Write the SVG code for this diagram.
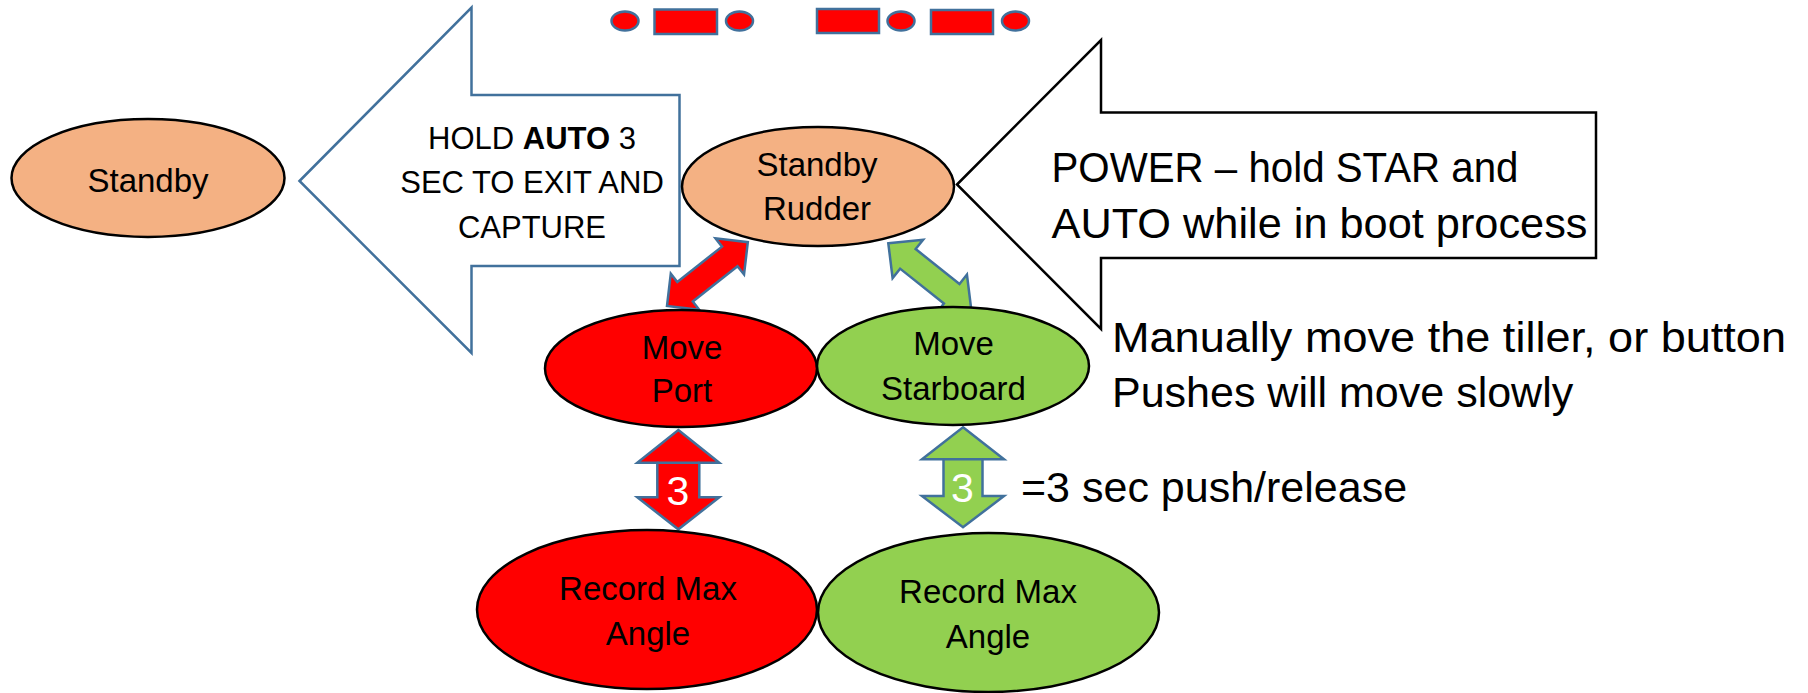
<svg xmlns="http://www.w3.org/2000/svg" width="1808" height="693" viewBox="0 0 1808 693">
<style>
.t{font-family:"Liberation Sans",Arial,sans-serif;fill:#000}
.n{font-size:33px;text-anchor:middle}
.h{font-size:31px;text-anchor:middle}
.big{font-size:43px}
.d{fill:#FF0000;stroke:#41719C;stroke-width:2.5}
.ba{stroke:#41719C;stroke-width:2.5;stroke-linejoin:miter}
.el{stroke:#000;stroke-width:2.5}
.or{fill:#F4B183}
.rd{fill:#FF0000}
.gr{fill:#92D050}
.w{font-family:"Liberation Sans",Arial,sans-serif;font-size:41px;fill:#fff;text-anchor:middle}
</style>
<rect width="1808" height="693" fill="#fff"/>

<g id="top-signal">
<ellipse class="d" cx="625" cy="21" rx="13.5" ry="9.5"/>
<rect class="d" x="654.5" y="9.5" width="62.5" height="24.5"/>
<ellipse class="d" cx="739.5" cy="21" rx="13.5" ry="9.5"/>
<rect class="d" x="817" y="9" width="62" height="24"/>
<ellipse class="d" cx="901" cy="21" rx="13.5" ry="9.5"/>
<rect class="d" x="931" y="10" width="62" height="24"/>
<ellipse class="d" cx="1015.5" cy="21" rx="13.5" ry="9.5"/>
</g>

<g id="exit-arrow">
<polygon points="299.5,181 471.5,7.5 471.5,95 679.5,95 679.5,266 471.5,266 471.5,353" fill="#fff" stroke="#41719C" stroke-width="2.5"/>
<text class="t h" x="532" y="149">HOLD <tspan font-weight="bold">AUTO</tspan> 3</text>
<text class="t h" x="532" y="193">SEC TO EXIT AND</text>
<text class="t h" x="532" y="238">CAPTURE</text>
</g>

<g id="power-arrow">
<polygon points="957,184.5 1101,40 1101,112.5 1596,112.5 1596,258 1101,258 1101,329" fill="#fff" stroke="#000" stroke-width="2.5"/>
<text class="t big" x="1051.5" y="181.5" textLength="467" lengthAdjust="spacingAndGlyphs">POWER – hold STAR and</text>
<text class="t big" x="1051.5" y="238" textLength="536" lengthAdjust="spacingAndGlyphs">AUTO while in boot process</text>
</g>

<g id="connectors">
<polygon class="ba rd" transform="translate(667,306) rotate(-38.3)" points="0,0 23,-23 23,-12.5 80,-12.5 80,-23 103,0 80,23 80,12.5 23,12.5 23,23"/>
<polygon class="ba gr" transform="translate(888.3,243.3) rotate(38.5)" points="0,0 25,-24.5 25,-12.5 81,-12.5 81,-24.5 106,0 81,24.5 81,12.5 25,12.5 25,24.5"/>
<polygon class="ba rd" points="678.3,430 719.3,462.7 699.3,462.7 699.3,497.3 719.3,497.3 678.3,529.3 637.3,497.3 657.3,497.3 657.3,462.7 637.3,462.7"/>
<line x1="657.3" y1="462.7" x2="699.3" y2="462.7" stroke="#41719C" stroke-width="2.5"/>
<text class="w" x="678" y="505">3</text>
<polygon class="ba gr" points="963,427.3 1004,459.3 982.5,459.3 982.5,496 1004,496 963,527.3 922,496 943.5,496 943.5,459.3 922,459.3"/>
<line x1="943.5" y1="459.3" x2="982.5" y2="459.3" stroke="#41719C" stroke-width="2.5"/>
<text class="w" x="962.5" y="501.5">3</text>
</g>

<g id="standby">
<ellipse class="el or" cx="148" cy="178" rx="136.5" ry="59"/>
<text class="t n" x="148" y="191.5">Standby</text>
</g>

<g id="standby-rudder">
<ellipse class="el or" cx="818" cy="186.5" rx="136" ry="59.5"/>
<text class="t n" x="817" y="175.5">Standby</text>
<text class="t n" x="817" y="220">Rudder</text>
</g>

<g id="move-port">
<ellipse class="el rd" cx="681" cy="368.5" rx="136" ry="58.5"/>
<text class="t n" x="682" y="359">Move</text>
<text class="t n" x="682" y="401.5">Port</text>
</g>

<g id="move-starboard">
<ellipse class="el gr" cx="953" cy="366" rx="136" ry="59"/>
<text class="t n" x="953.5" y="355">Move</text>
<text class="t n" x="953.5" y="400">Starboard</text>
</g>

<g id="record-port">
<ellipse class="el rd" cx="647" cy="609.5" rx="170" ry="79.5"/>
<text class="t n" x="648" y="600">Record Max</text>
<text class="t n" x="648" y="645">Angle</text>
</g>

<g id="record-starboard">
<ellipse class="el gr" cx="988.5" cy="612.5" rx="170.5" ry="79.5"/>
<text class="t n" x="988" y="603">Record Max</text>
<text class="t n" x="988" y="648">Angle</text>
</g>

<g id="notes">
<text class="t big" x="1112" y="351.5" textLength="674" lengthAdjust="spacingAndGlyphs">Manually move the tiller, or button</text>
<text class="t big" x="1112" y="406.5">Pushes will move slowly</text>
<text class="t big" x="1021" y="501.5">=3 sec push/release</text>
</g>
</svg>
